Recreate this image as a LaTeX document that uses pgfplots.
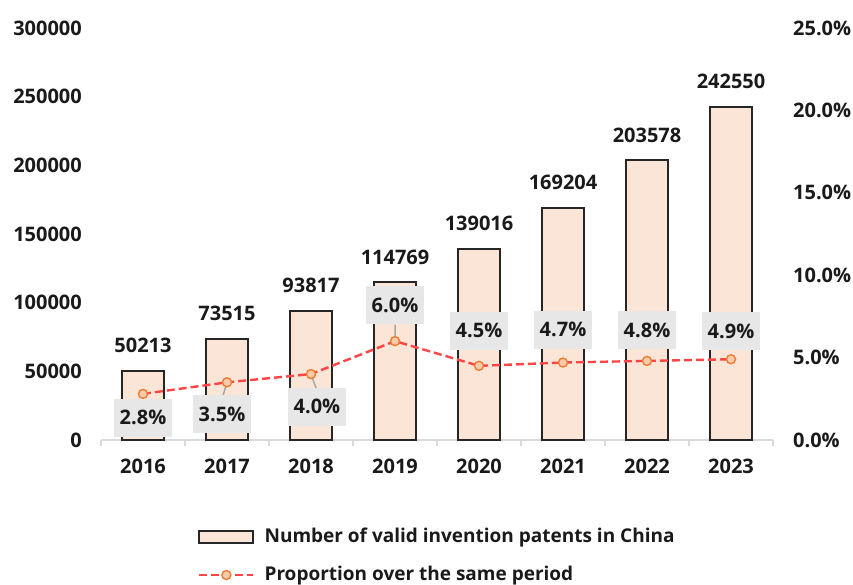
\documentclass[border=0pt]{standalone}
\usepackage{pgfplots}
\pgfplotsset{compat=1.18}
\usepackage{pgfplotstable}
\usepackage{fontspec}
\IfFontExistsTF{Noto Sans Bold}
  {\setmainfont{Noto Sans Bold}}
  {\setmainfont{Open Sans}[UprightFont=* Bold]}
\definecolor{barfill}{HTML}{FBE5D6}
\definecolor{bardraw}{HTML}{262626}
\definecolor{txt}{HTML}{1A1A1A}
\definecolor{redline}{HTML}{FF4545}
\definecolor{mkdraw}{HTML}{ED7D31}
\definecolor{mkfill}{HTML}{F8CBAD}
\definecolor{boxgray}{HTML}{E7E7E7}
\definecolor{axgray}{HTML}{D9D9D9}
\definecolor{leadgray}{HTML}{A6A6A6}
\newcommand\ff{\fontsize{20bp}{24bp}\selectfont}
\newcommand\lf{\fontsize{19bp}{23bp}\selectfont}
\pgfplotsset{
  mylinelegend/.style={legend image code/.code={\draw[mark repeat=2, mark phase=2, ##1] plot coordinates {(0bp,0bp) (27bp,0bp) (54bp,0bp)};}},
  mybarlegend/.style={legend image code/.code={\draw[fill=barfill, draw=bardraw, line width=1.8bp] (0bp,-6bp) rectangle (54bp,6bp);}},
}

\pgfplotstableread{
x y
0 50213
1 73515
2 93817
3 114769
4 139016
5 169204
6 203578
7 242550
}\bars

\pgfplotstableread{
x p dy dx
0 2.8 -24 0
1 3.5 -32 -5
2 4.0 -33 6
3 6.0 36 0
4 4.5 35 0
5 4.7 33 0
6 4.8 31 0
7 4.9 28 0
}\prop

\pgfplotstableread{
x y
1 3.5
0.95 2.65
nan nan
2 4.0
2.06 3.15
nan nan
3 6.0
3 7.0
}\leaders

\begin{document}
\color{txt}\ff
\begin{tikzpicture}
\path[use as bounding box] (-101bp,-145bp) rectangle (752bp,440bp);
\begin{axis}[
  scale only axis, width=672bp, height=412bp,
  xmin=-0.5, xmax=7.5, ymin=0, ymax=300000,
  enlargelimits=false, scaled y ticks=false,
  axis x line*=bottom, axis y line*=left,
  y axis line style={draw=none},
  x axis line style={draw=axgray, line width=1.2bp, -},
  xtick={0,...,7},
  xticklabels={2016,2017,2018,2019,2020,2021,2022,2023},
  minor xtick={-0.5,0.5,...,7.5},
  tick align=outside,
  major tick length=0pt, minor tick length=6bp,
  minor tick style={draw=axgray, line width=1.2bp},
  major tick style={draw=none},
  ytick={0,50000,...,300000},
  yticklabels={0,50000,100000,150000,200000,250000,300000},
  tick label style={font=\ff, text=txt},
  yticklabel style={anchor=east, inner sep=0pt, xshift=-19bp},
  xticklabel style={anchor=north, inner sep=0pt, yshift=-19bp},
  ybar, bar width=0.5,
  nodes near coords, point meta=explicit symbolic,
  nodes near coords style={font=\ff, text=txt, anchor=south, inner sep=0pt, yshift=17bp},
]
\addplot[fill=barfill, draw=bardraw, line width=2bp] table[x=x, y=y, meta=y] {\bars};
\end{axis}
\begin{axis}[
  scale only axis, width=672bp, height=412bp,
  xmin=-0.5, xmax=7.5, ymin=0, ymax=25,
  enlargelimits=false,
  axis y line*=right, axis x line=none,
  y axis line style={draw=none},
  ytick={0,5,...,25},
  yticklabels={0.0\%,5.0\%,10.0\%,15.0\%,20.0\%,25.0\%},
  ytick style={draw=none},
  tick label style={font=\ff, text=txt},
  yticklabel style={anchor=west, inner sep=0pt, xshift=20bp},
  unbounded coords=jump,
  legend style={draw=none, fill=none, at={(axis description cs:0.1443,-0.2816)}, anchor=west,
    inner sep=0pt, column sep=10bp, row sep=16bp,
    nodes={inner xsep=0pt, inner ysep=2bp, text height=14bp, text depth=4bp, font=\lf, text=txt}},
  legend cell align=left,
]
\addlegendimage{mybarlegend}
\addlegendentry{Number of valid invention patents in China}
\addplot[draw=leadgray, line width=1.5bp, forget plot] table[x=x, y=y] {\leaders};
\addplot[draw=redline, line width=2.4bp, dash pattern=on 8bp off 4bp,
  mark=*, mark size=4.5bp, mark options={solid, draw=mkdraw, fill=mkfill, line width=1.4bp},
  nodes near coords={\pgfplotspointmeta\%}, point meta=explicit symbolic,
  visualization depends on={\thisrow{dy} \as \ldy},
  visualization depends on={\thisrow{dx} \as \ldx},
  nodes near coords style={font=\ff, text=txt, fill=boxgray, anchor=center,
    inner xsep=6bp, inner ysep=12bp, text height=14bp, text depth=0bp,
    yshift=\ldy, xshift=\ldx},
  mylinelegend
] table[x=x, y=p, meta=p] {\prop};
\addlegendentry{Proportion over the same period}
\end{axis}
\end{tikzpicture}
\end{document}
